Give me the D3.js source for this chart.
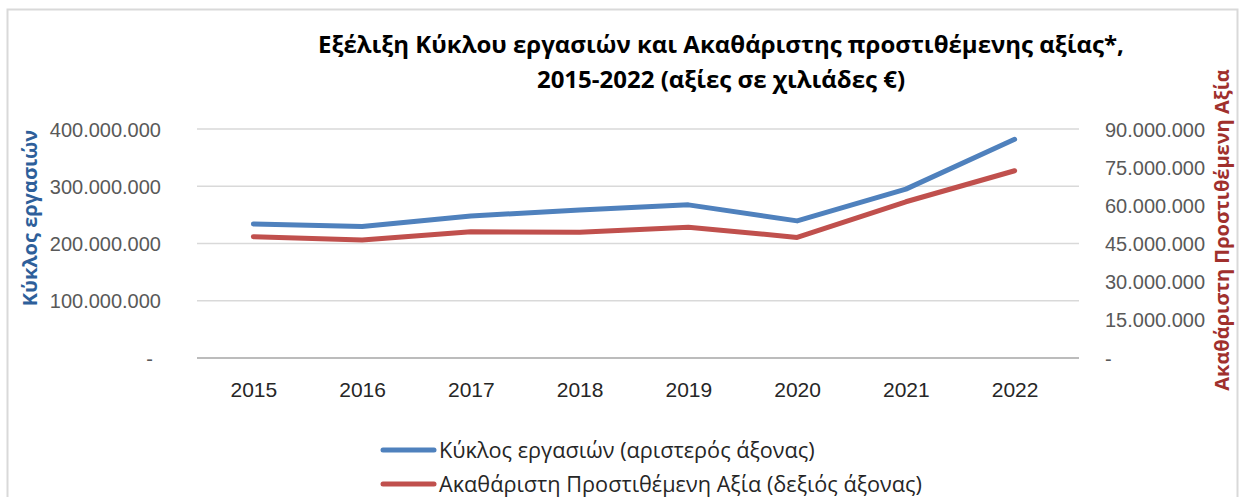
<!DOCTYPE html>
<html>
<head>
<meta charset="utf-8">
<script src="https://cdn.jsdelivr.net/npm/d3@7"></script>
<style>
  body { margin: 0; background: #fff; }
  svg { font-family: "Open Sans", "Liberation Sans", sans-serif; }
</style>
</head>
<body>
<div id="chart"></div>
<script>
// data
var years = ["2015", "2016", "2017", "2018", "2019", "2020", "2021", "2022"];
var turnover = [234000000, 229500000, 248000000, 258500000, 267500000, 239500000, 295000000, 382000000];
var gva = [47700000, 46400000, 49600000, 49400000, 51400000, 47400000, 61400000, 73600000];
var leftTicks = [0, 100000000, 200000000, 300000000, 400000000];
var rightTicks = [0, 15000000, 30000000, 45000000, 60000000, 75000000, 90000000];
var titleLines = ["Εξέλιξη Κύκλου εργασιών και Ακαθάριστης προστιθέμενης αξίας*,", "2015-2022 (αξίες σε χιλιάδες €)"];
var legendLabels = ["Κύκλος εργασιών (αριστερός άξονας)", "Ακαθάριστη Προστιθέμενη Αξία (δεξιός άξονας)"];

var width = 1244, height = 497;
var blue = "#4f81bd", red = "#c0504d";

var svg = d3.select("#chart").append("svg")
    .attr("width", width)
    .attr("height", height);

// chart frame
svg.append("rect")
    .attr("x", 7.5).attr("y", 9.5)
    .attr("width", 1230).attr("height", 520)
    .style("fill", "none")
    .style("stroke", "#d9d9d9")
    .style("stroke-width", 2);

var plot = { left: 199, right: 1069, top: 129, bottom: 358 };

var x = d3.scalePoint()
    .domain(years)
    .range([plot.left, plot.right])
    .padding(0.5);

var yL = d3.scaleLinear().domain([0, 400000000]).range([plot.bottom, plot.top]);
var yR = d3.scaleLinear().domain([0, 90000000]).range([plot.bottom, plot.top]);

var fmt = function (v) {
    if (v === 0) return "-";
    return d3.format(",")(v).replace(/,/g, ".");
};

// gridlines
svg.append("g")
    .selectAll("line")
    .data(leftTicks.filter(function (d) { return d > 0; }))
    .enter()
    .append("line")
    .attr("x1", plot.left - 2).attr("x2", plot.right + 10)
    .attr("y1", function (d) { return yL(d); })
    .attr("y2", function (d) { return yL(d); })
    .style("stroke", "#d9d9d9")
    .style("stroke-width", 1.5);

svg.append("line")
    .attr("x1", plot.left - 2).attr("x2", plot.right + 10)
    .attr("y1", plot.bottom).attr("y2", plot.bottom)
    .style("stroke", "#a6a6a6")
    .style("stroke-width", 1.5);

// left axis
var leftAxis = svg.append("g")
    .attr("transform", "translate(166,0)")
    .call(d3.axisLeft(yL).tickValues(leftTicks).tickFormat(fmt).tickSize(0).tickPadding(5));
leftAxis.select(".domain").remove();
leftAxis.selectAll("text")
    .style("font-size", "20px")
    .style("fill", "#595959")
    .attr("dy", "0.35em");
leftAxis.selectAll(".tick").filter(function (d) { return d === 0; }).select("text")
    .attr("x", -13);

// right axis
var rightAxis = svg.append("g")
    .attr("transform", "translate(1100,0)")
    .call(d3.axisRight(yR).tickValues(rightTicks).tickFormat(fmt).tickSize(0).tickPadding(5));
rightAxis.select(".domain").remove();
rightAxis.selectAll("text")
    .style("font-size", "20px")
    .style("fill", "#595959")
    .attr("dy", "0.35em");

// x axis
var xAxis = svg.append("g")
    .attr("transform", "translate(0," + plot.bottom + ")")
    .call(d3.axisBottom(x).tickSize(0).tickPadding(24));
xAxis.select(".domain").remove();
xAxis.selectAll("text")
    .style("font-size", "21px")
    .style("fill", "#262626");

// lines
var lineL = d3.line()
    .x(function (d, i) { return x(years[i]); })
    .y(function (d) { return yL(d); });
var lineR = d3.line()
    .x(function (d, i) { return x(years[i]); })
    .y(function (d) { return yR(d); });

svg.append("path")
    .datum(gva)
    .attr("d", lineR)
    .style("fill", "none")
    .style("stroke", red)
    .style("stroke-width", 5)
    .style("stroke-linecap", "round")
    .style("stroke-linejoin", "round");

svg.append("path")
    .datum(turnover)
    .attr("d", lineL)
    .style("fill", "none")
    .style("stroke", blue)
    .style("stroke-width", 5)
    .style("stroke-linecap", "round")
    .style("stroke-linejoin", "round");

// title
svg.append("g")
    .selectAll("text")
    .data(titleLines)
    .enter()
    .append("text")
    .attr("x", 721)
    .attr("y", function (d, i) { return 53 + i * 35; })
    .attr("text-anchor", "middle")
    .style("font-size", "24px")
    .style("font-weight", "bold")
    .style("fill", "#000")
    .text(function (d) { return d; });

// axis titles
svg.append("text")
    .attr("transform", "translate(37,218) rotate(-90)")
    .attr("text-anchor", "middle")
    .style("font-size", "20px")
    .style("font-weight", "bold")
    .style("fill", "#2e5f9a")
    .text("Κύκλος εργασιών");

svg.append("text")
    .attr("transform", "translate(1229,230) rotate(-90)")
    .attr("text-anchor", "middle")
    .style("font-size", "20px")
    .style("font-weight", "bold")
    .style("fill", "#a0302d")
    .text("Ακαθάριστη Προστιθέμενη Αξία");

// legend
var legend = svg.append("g")
    .selectAll("g")
    .data(legendLabels)
    .enter()
    .append("g")
    .attr("transform", function (d, i) { return "translate(0," + (450 + i * 34) + ")"; });

legend.append("line")
    .attr("x1", 383).attr("x2", 434)
    .attr("y1", 0).attr("y2", 0)
    .style("stroke", function (d, i) { return i === 0 ? blue : red; })
    .style("stroke-width", 5)
    .style("stroke-linecap", "round");

legend.append("text")
    .attr("x", 439)
    .attr("y", 0)
    .attr("dy", "0.35em")
    .style("font-size", "21.7px")
    .style("fill", "#262626")
    .text(function (d) { return d; });
</script>
</body>
</html>
